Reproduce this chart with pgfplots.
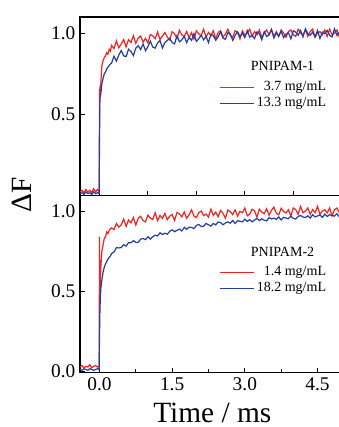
\documentclass[border=0pt]{standalone}
\usepackage{fontspec}
\setmainfont{Liberation Serif}
\usepackage{pgfplots}
\usepackage{pgfplotstable}
\pgfplotsset{compat=1.18}
\definecolor{cred}{RGB}{237,36,36}
\definecolor{cblue}{RGB}{38,62,155}

\pgfplotstableread{
t R1 B1 R2 B2
-0.400 0.020 0.010 0.025 0.010
-0.360 0.030 0.015 0.035 0.005
-0.320 0.015 0.005 0.020 0.015
-0.280 0.035 0.020 0.030 0.010
-0.240 0.020 0.010 0.025 0.005
-0.200 0.030 0.015 0.040 0.015
-0.160 0.015 0.005 0.020 0.010
-0.120 0.040 0.020 0.030 0.005
-0.080 0.020 0.010 0.035 0.010
-0.040 0.035 0.015 0.025 0.015
-0.005 0.020 0.010 0.030 0.010
0.000 0.630 0.300 0.840 0.200
0.010 0.660 0.600 0.460 0.380
0.020 0.650 0.610 0.580 0.470
0.030 0.700 0.630 0.660 0.520
0.050 0.800 0.690 0.750 0.570
0.075 0.830 0.720 0.790 0.620
0.100 0.850 0.750 0.830 0.650
0.125 0.860 0.760 0.840 0.670
0.150 0.880 0.780 0.870 0.685
0.175 0.870 0.790 0.860 0.700
0.200 0.900 0.800 0.880 0.710
0.225 0.890 0.810 0.890 0.720
0.25 0.925 0.815 0.895 0.735
0.30 0.905 0.858 0.885 0.745
0.35 0.953 0.828 0.923 0.772
0.40 0.910 0.866 0.900 0.770
0.45 0.935 0.893 0.915 0.773
0.50 0.960 0.860 0.950 0.790
0.55 0.915 0.856 0.905 0.782
0.60 0.960 0.901 0.944 0.803
0.65 0.942 0.887 0.927 0.802
0.70 0.985 0.862 0.960 0.816
0.75 0.938 0.908 0.913 0.805
0.80 0.970 0.923 0.956 0.805
0.85 0.983 0.899 0.968 0.825
0.90 0.945 0.934 0.941 0.829
0.95 0.968 0.892 0.933 0.822
1.00 0.940 0.917 0.975 0.840
1.05 0.992 0.951 0.957 0.825
1.10 0.984 0.914 0.948 0.840
1.15 0.966 0.908 0.990 0.850
1.20 1.008 0.941 0.941 0.845
1.25 0.960 0.955 0.973 0.865
1.30 0.982 0.908 0.954 0.854
1.35 1.004 0.942 0.986 0.862
1.40 0.976 0.955 0.947 0.856
1.45 0.958 0.969 0.969 0.874
1.50 1.010 0.942 0.980 0.883
1.55 0.996 0.934 0.941 0.872
1.60 0.967 0.985 0.992 0.880
1.65 1.018 0.947 0.983 0.888
1.70 0.989 0.959 0.964 0.876
1.75 0.980 0.981 0.995 0.899
1.80 1.011 0.942 0.956 0.887
1.85 0.972 0.974 0.977 0.900
1.90 1.003 0.956 1.008 0.898
1.95 0.964 0.997 0.969 0.891
2.00 1.015 0.949 0.960 0.910
2.05 0.995 0.966 0.991 0.917
2.10 0.985 0.988 1.001 0.904
2.15 1.025 0.959 0.972 0.906
2.20 0.975 0.981 0.982 0.923
2.25 1.005 0.942 0.963 0.915
2.30 0.985 0.993 1.013 0.907
2.35 1.015 0.985 0.974 0.923
2.40 0.965 0.956 0.994 0.915
2.45 1.005 0.978 0.965 0.932
2.50 1.015 1.009 1.005 0.928
2.55 0.975 0.970 0.986 0.915
2.60 0.995 0.962 0.956 0.927
2.65 1.025 1.003 1.007 0.933
2.70 0.985 0.995 0.997 0.925
2.75 0.975 0.956 0.978 0.942
2.80 1.015 0.987 1.008 0.923
2.85 1.005 1.009 0.969 0.940
2.90 0.965 0.980 0.999 0.937
2.95 1.015 1.002 0.990 0.933
3.00 0.990 0.973 1.020 0.950
3.05 1.000 1.016 0.971 0.936
3.10 1.025 0.976 0.981 0.947
3.15 0.980 0.987 1.012 0.933
3.20 1.010 0.967 1.002 0.944
3.25 0.990 1.008 0.963 0.955
3.30 1.020 0.998 1.013 0.941
3.35 0.975 0.959 0.994 0.952
3.40 1.000 1.009 0.984 0.943
3.45 1.020 0.980 1.015 0.939
3.50 0.990 0.990 0.975 0.960
3.55 1.025 1.021 1.006 0.951
3.60 0.980 0.971 1.026 0.957
3.65 1.010 1.002 0.987 0.948
3.70 0.980 0.982 0.977 0.964
3.75 1.020 1.013 1.018 0.945
3.80 1.000 0.973 0.998 0.961
3.85 0.975 0.994 0.989 0.957
3.90 1.010 1.004 1.009 0.953
3.95 1.020 0.965 0.970 0.969
4.00 0.990 1.015 1.020 0.955
4.05 0.980 1.007 1.010 0.951
4.10 1.025 0.987 0.980 0.967
4.15 1.000 1.017 1.030 0.973
4.20 0.990 0.977 0.990 0.964
4.25 1.020 1.027 1.000 0.960
4.30 0.980 0.997 1.020 0.971
4.35 1.010 0.987 0.980 0.957
4.40 1.025 1.007 1.010 0.978
4.45 0.975 0.977 0.990 0.964
4.50 1.000 1.017 1.030 0.970
4.55 1.010 0.967 0.980 0.976
4.60 0.990 1.007 1.000 0.961
4.65 1.020 0.997 1.010 0.982
4.70 0.980 1.017 0.990 0.967
4.75 1.025 0.987 1.020 0.978
4.80 0.990 0.977 0.970 0.973
4.85 1.000 1.027 1.010 0.969
4.90 1.020 0.987 1.020 0.984
4.95 0.975 1.007 0.990 0.965
5.00 1.010 0.977 0.980 0.980
}\data

\begin{document}
\begin{tikzpicture}
\pgfplotsset{
  panel/.style={
    scale only axis, width=194.25pt,
    xmin=-0.4, xmax=4.95,
    axis line style={line width=0.9pt},
    every tick/.style={line width=0.8pt, black},
    tick align=inside,
    major tick length=3.5pt, minor tick length=2.5pt,
    xtick pos=bottom, ytick pos=left,
    tick label style={font=\fontsize{14.5}{16}\selectfont},
    legend cell align=right,
    legend style={draw=none, fill=none, font=\fontsize{10.5}{12}\selectfont,
      inner sep=0pt, row sep=1.5pt, nodes={inner sep=1pt},
      /tikz/every odd column/.append style={column sep=1pt}},
  },
}
\begin{axis}[panel, name=top, height=133.5pt,
  ymin=0, ymax=1.1, ytick={0.5,1.0}, yticklabels={0.5,1.0},
  xtick={0,1,2,3,4}, xticklabels={},
  legend image code/.code={\draw[#1, line width=0.9pt] (0pt,0pt) -- (24.75pt,0pt);},
  legend style={at={(0.955,0.561)}, anchor=east}]
\addplot[cred, line width=0.9pt] table[x=t,y=R1]{\data};
\addlegendentry{3.7 mg/mL}
\addplot[cblue, line width=0.9pt] table[x=t,y=B1]{\data};
\addlegendentry{13.3 mg/mL}
\node[font=\fontsize{10.5}{12}\selectfont] at (axis description cs:0.781,0.727) {PNIPAM-1};
\end{axis}
\begin{axis}[panel, name=bot, at={(top.south west)}, anchor=north west, height=133pt,
  ymin=-0.01, ymax=1.1, ytick={0,0.5,1}, yticklabels={0.0,0.5,1.0},
  xtick={0,1.5,3,4.5}, xticklabels={0.0,1.5,3.0,4.5}, minor x tick num=1,
  xlabel={Time / ms},
  xlabel style={font=\fontsize{22}{26}\selectfont, at={(axis description cs:0.51,0)}, anchor=base, yshift=-37.3pt},
  legend image code/.code={\draw[#1, line width=0.9pt] (0pt,0pt) -- (24.75pt,0pt);},
  legend style={at={(0.955,0.521)}, anchor=east}]
\addplot[cred, line width=0.9pt] table[x=t,y=R2]{\data};
\addlegendentry{1.4 mg/mL}
\addplot[cblue, line width=0.9pt] table[x=t,y=B2]{\data};
\addlegendentry{18.2 mg/mL}
\node[font=\fontsize{10.5}{12}\selectfont] at (axis description cs:0.781,0.683) {PNIPAM-2};
\end{axis}
\node[rotate=90, font=\fontsize{22}{26}\selectfont] at ([xshift=-43.5pt]top.south west) {ΔF};
\pgfresetboundingbox
\path[use as bounding box] ([xshift=-60pt, yshift=12.75pt]top.north west) rectangle ([xshift=-0.45pt, yshift=-40.7pt]bot.south east);
\end{tikzpicture}
\end{document}
